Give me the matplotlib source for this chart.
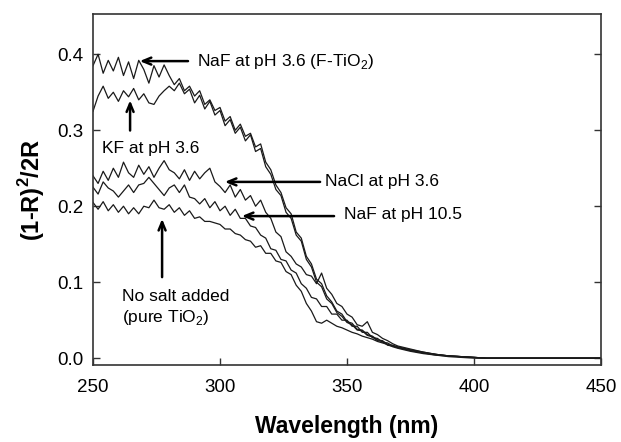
import numpy as np
import matplotlib.pyplot as plt
import matplotlib as mpl

mpl.rcParams['font.family'] = ['Liberation Sans', 'DejaVu Sans']
mpl.rcParams['mathtext.fontset'] = 'custom'
mpl.rcParams['mathtext.rm'] = 'Liberation Sans'
mpl.rcParams['mathtext.bf'] = 'Liberation Sans:bold'

# --- Data ---
wl = np.concatenate([np.arange(250, 372, 2), [375, 380, 385, 390, 395, 400, 405, 450]])

naf_36 = [0.385, 0.400, 0.375, 0.392, 0.378, 0.396, 0.372, 0.390, 0.368, 0.392,
          0.380, 0.362, 0.385, 0.370, 0.386, 0.372, 0.360, 0.368, 0.352, 0.358,
          0.345, 0.352, 0.334, 0.340, 0.326, 0.330, 0.312, 0.318, 0.300, 0.308,
          0.292, 0.296, 0.278, 0.282, 0.258, 0.248, 0.228, 0.218, 0.198, 0.190,
          0.166, 0.158, 0.134, 0.124, 0.104, 0.098, 0.082, 0.074, 0.062, 0.058,
          0.048, 0.046, 0.038, 0.037, 0.031, 0.029, 0.024, 0.023, 0.018, 0.017,
          0.015, 0.011, 0.008, 0.005, 0.003, 0.002, 0.001, 0.0, 0.0]

kf_36 = [0.325, 0.345, 0.358, 0.342, 0.350, 0.338, 0.352, 0.344, 0.355, 0.340,
         0.348, 0.336, 0.334, 0.345, 0.352, 0.358, 0.352, 0.362, 0.348, 0.354,
         0.336, 0.346, 0.328, 0.338, 0.320, 0.326, 0.306, 0.314, 0.296, 0.304,
         0.286, 0.294, 0.272, 0.276, 0.252, 0.242, 0.222, 0.214, 0.192, 0.184,
         0.162, 0.154, 0.130, 0.120, 0.100, 0.094, 0.078, 0.072, 0.060, 0.055,
         0.047, 0.044, 0.037, 0.036, 0.030, 0.028, 0.023, 0.022, 0.017, 0.016,
         0.014, 0.010, 0.007, 0.005, 0.003, 0.002, 0.001, 0.0, 0.0]

nacl_36 = [0.240, 0.230, 0.246, 0.234, 0.250, 0.238, 0.258, 0.244, 0.238, 0.254,
           0.242, 0.252, 0.238, 0.250, 0.260, 0.248, 0.244, 0.236, 0.248, 0.234,
           0.246, 0.236, 0.244, 0.250, 0.232, 0.226, 0.218, 0.228, 0.212, 0.222,
           0.208, 0.214, 0.200, 0.208, 0.192, 0.184, 0.166, 0.160, 0.140, 0.134,
           0.124, 0.120, 0.110, 0.108, 0.098, 0.112, 0.092, 0.084, 0.072, 0.068,
           0.058, 0.054, 0.044, 0.042, 0.048, 0.034, 0.031, 0.026, 0.023, 0.019,
           0.016, 0.012, 0.008, 0.005, 0.003, 0.002, 0.001, 0.0, 0.0]

naf_105 = [0.225, 0.216, 0.232, 0.224, 0.220, 0.212, 0.220, 0.228, 0.218, 0.228,
           0.230, 0.238, 0.230, 0.222, 0.214, 0.224, 0.228, 0.218, 0.228, 0.212,
           0.210, 0.203, 0.210, 0.198, 0.206, 0.194, 0.200, 0.188, 0.196, 0.184,
           0.184, 0.174, 0.172, 0.162, 0.158, 0.144, 0.142, 0.130, 0.128, 0.116,
           0.112, 0.098, 0.092, 0.080, 0.078, 0.068, 0.068, 0.058, 0.058, 0.050,
           0.050, 0.042, 0.042, 0.034, 0.034, 0.027, 0.026, 0.021, 0.020, 0.016,
           0.014, 0.010, 0.007, 0.004, 0.003, 0.002, 0.001, 0.0, 0.0]

no_salt = [0.205, 0.196, 0.206, 0.194, 0.202, 0.192, 0.200, 0.190, 0.198, 0.190,
           0.200, 0.198, 0.208, 0.198, 0.196, 0.202, 0.192, 0.198, 0.188, 0.194,
           0.184, 0.186, 0.180, 0.180, 0.178, 0.176, 0.170, 0.170, 0.164, 0.162,
           0.156, 0.154, 0.146, 0.148, 0.138, 0.138, 0.128, 0.126, 0.114, 0.110,
           0.096, 0.088, 0.072, 0.062, 0.048, 0.046, 0.050, 0.046, 0.042, 0.040,
           0.037, 0.034, 0.032, 0.029, 0.027, 0.025, 0.022, 0.020, 0.018, 0.015,
           0.013, 0.009, 0.006, 0.004, 0.002, 0.001, 0.0, 0.0, 0.0]

series = [naf_36, kf_36, nacl_36, naf_105, no_salt]

# --- Figure ---
fig = plt.figure(figsize=(6.21, 4.42), dpi=100)
ax = fig.add_axes([93 / 621, 1 - 365 / 442, (601 - 93) / 621, (365 - 14) / 442])

for y in series:
    ax.plot(wl, y, color='#1a1a1a', lw=0.9)

ax.set_xlim(250, 450)
ax.set_ylim(-0.009, 0.453)
ax.set_xticks([250, 300, 350, 400, 450])
ax.set_yticks([0.0, 0.1, 0.2, 0.3, 0.4])
ax.set_yticklabels(['0.0', '0.1', '0.2', '0.3', '0.4'])
ax.tick_params(direction='in', length=5, width=1, labelsize=13.5, color='#333333')
ax.tick_params(axis='y', right=True, pad=7)
ax.tick_params(axis='x', pad=10)
for s in ax.spines.values():
    s.set_linewidth(1.2)
    s.set_color('#333333')

ax.set_xlabel('Wavelength (nm)', fontsize=16.5, fontweight='bold', labelpad=14)
ax.set_ylabel(r'(1-R)$^\mathbf{2}$/2R', fontsize=17, fontweight='bold', labelpad=7)

# --- Annotations ---
arrow = dict(arrowstyle='->,head_length=0.6,head_width=0.25', lw=1.8, color='black')
fs = 12.5

ax.annotate('', xy=(267.3, 0.391), xytext=(288.5, 0.391), arrowprops=arrow)
ax.text(291, 0.391, r'NaF at pH 3.6 (F-TiO$_2$)', fontsize=fs, va='center', ha='left')

ax.annotate('', xy=(264.6, 0.343), xytext=(264.6, 0.296), arrowprops=arrow)
ax.text(253.5, 0.276, 'KF at pH 3.6', fontsize=fs, va='center', ha='left')

ax.annotate('', xy=(300.8, 0.232), xytext=(340.5, 0.232), arrowprops=arrow)
ax.text(341.3, 0.232, 'NaCl at pH 3.6', fontsize=fs, va='center', ha='left')

ax.annotate('', xy=(307.5, 0.187), xytext=(346.0, 0.187), arrowprops=arrow)
ax.text(349.0, 0.189, 'NaF at pH 10.5', fontsize=fs, va='center', ha='left')

ax.annotate('', xy=(277.2, 0.187), xytext=(277.2, 0.103), arrowprops=arrow)
ax.text(261.4, 0.066, 'No salt added\n(pure TiO$_2$)', fontsize=fs, va='center', ha='left',
        linespacing=1.3)

fig.savefig('out.png', dpi=100)
